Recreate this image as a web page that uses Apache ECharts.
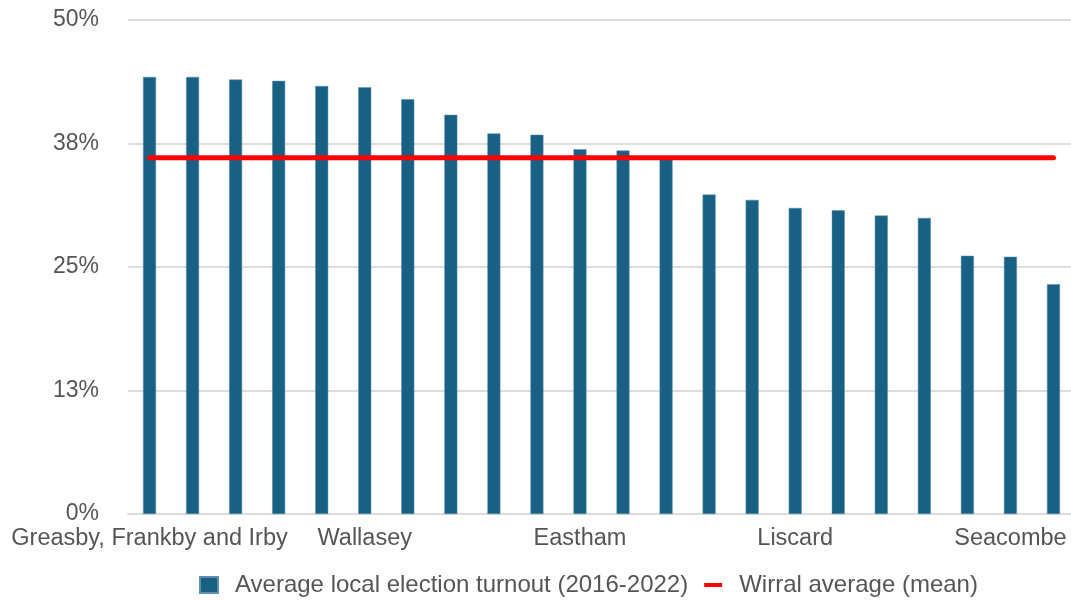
<!DOCTYPE html>
<html>
<head>
<meta charset="utf-8">
<title>Local election turnout by ward, Wirral</title>
<script src="https://cdn.jsdelivr.net/npm/echarts@6/dist/echarts.min.js"></script>
<style>
  html, body { margin: 0; padding: 0; background: #ffffff; }
  #chart { width: 1071px; height: 601px; }
</style>
</head>
<body>
<div id="chart"></div>
<script>
// Wards, ordered from highest to lowest average turnout
const wards = [
  'Greasby, Frankby and Irby', 'Heswall', 'West Kirby and Thurstaston', 'Hoylake and Meols',
  'Clatterbridge', 'Wallasey', 'Pensby and Singleton', 'Oxton', 'Prenton', 'Bebington',
  'Eastham', 'Moreton West and Saughall Massie', 'New Brighton', 'Upton', 'Bromborough',
  'Liscard', 'Claughton', 'Leasowe and Moreton East', 'Rock Ferry', 'Birkenhead and Tranmere',
  'Seacombe', 'Bidston and St James'
];

// Average local election turnout 2016-2022 (%)
const turnout = [
  44.24, 44.24, 43.97, 43.84, 43.32, 43.19, 41.99, 40.40, 38.52, 38.39,
  36.93, 36.79, 36.00, 32.33, 31.79, 30.98, 30.75, 30.21, 29.97, 26.14,
  26.04, 23.25
];

// Borough-wide mean turnout (%), one point per ward
const wirralAverage = [
  36.06, 36.06, 36.06, 36.06, 36.06, 36.06, 36.06, 36.06, 36.06, 36.06, 36.06,
  36.06, 36.06, 36.06, 36.06, 36.06, 36.06, 36.06, 36.06, 36.06, 36.06, 36.06
];

// Value axis ticks (%)
const yTicks = { min: 0, max: 50, interval: 12.5 };

const seriesNames = ['Average local election turnout (2016-2022)', 'Wirral average (mean)'];

const FONT = '"Liberation Sans", Arial, sans-serif';
const chart = echarts.init(document.getElementById('chart'), null, { renderer: 'canvas' });

chart.setOption({
  animation: false,
  backgroundColor: '#ffffff',
  textStyle: { fontFamily: FONT },
  grid: {
    left: 128, top: 20, right: -4, bottom: 87,
    containLabel: false,
    outerBoundsMode: 'none'
  },
  legend: {
    left: 194,
    top: 568,
    itemGap: 16,
    itemWidth: 18,
    itemHeight: 16,
    textStyle: { fontSize: 24, color: '#555', fontFamily: FONT, padding: [0, 0, 0, 12] },
    data: [
      { name: seriesNames[0], icon: 'rect' },
      { name: seriesNames[1], icon: 'path://M0,6 h18 v4 h-18 z' }
    ]
  },
  xAxis: {
    type: 'category',
    data: wards,
    boundaryGap: true,
    axisLine: { show: true, lineStyle: { color: '#dcdcdc', width: 2 } },
    axisTick: { show: false },
    axisLabel: {
      interval: 4,
      margin: 13,
      fontSize: 23.5,
      color: '#555',
      fontFamily: FONT
    }
  },
  yAxis: {
    type: 'value',
    min: yTicks.min,
    max: yTicks.max,
    interval: yTicks.interval,
    axisLine: { show: false },
    axisTick: { show: false },
    splitLine: { lineStyle: { color: '#dcdcdc', width: 2 } },
    axisLabel: {
      margin: 29,
      fontSize: 23,
      color: '#555',
      fontFamily: FONT,
      formatter: v => Math.round(v) + '%'
    }
  },
  series: [
    {
      name: seriesNames[0],
      type: 'bar',
      data: turnout,
      barWidth: 13,
      itemStyle: { color: '#186184', borderColor: '#5d8fab', borderWidth: 0.5 },
      z: 2
    },
    {
      name: seriesNames[1],
      type: 'line',
      data: wirralAverage,
      symbol: 'none',
      lineStyle: { color: '#ff0000', width: 5, cap: 'round' },
      itemStyle: { color: '#ff0000' },
      z: 3
    }
  ]
});
</script>
</body>
</html>
